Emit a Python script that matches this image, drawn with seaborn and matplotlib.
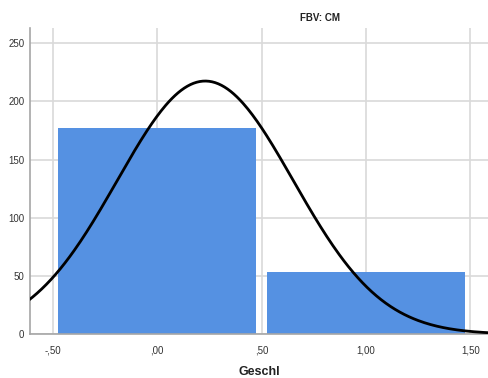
import numpy as np
import pandas as pd
import matplotlib
matplotlib.use("Agg")
import matplotlib.pyplot as plt
import seaborn as sns

# histogram data
bin_centers = [0.0, 1.0]
counts = [177, 53]
bin_edges = [-0.5, 0.5, 1.5]
x_ticks = [-0.5, 0.0, 0.5, 1.0, 1.5]
x_tick_labels = ["-,50", ",00", ",50", "1,00", "1,50"]
y_ticks = [0, 50, 100, 150, 200, 250]

# normal curve fitted like SPSS does (N * binwidth * pdf)
n = sum(counts)
mean = np.average(bin_centers, weights=counts)
sd = np.sqrt(np.sum(np.array(counts) * (np.array(bin_centers) - mean) ** 2) / (n - 1))
xs = np.linspace(-0.62, 1.6, 300)
curve = pd.DataFrame({"x": xs, "y": n * 1.0 * np.exp(-0.5 * ((xs - mean) / sd) ** 2) / (sd * np.sqrt(2 * np.pi))})

sns.set_style("white")
plt.rcParams["font.family"] = ["Liberation Sans", "DejaVu Sans"]

fig = plt.figure(figsize=(4.89, 3.78), dpi=100)
ax = fig.add_axes([0.061, 0.116, 0.939, 0.81])

sns.histplot(x=bin_centers, weights=counts, bins=bin_edges, shrink=0.95,
             color="#5591E2", alpha=1, edgecolor="none", ax=ax, zorder=2)
sns.lineplot(data=curve, x="x", y="y", color="black", linewidth=2, ax=ax, zorder=3)

ax.set_xlim(-0.61, 1.59)
ax.set_ylim(0, 263)
ax.set_xticks(x_ticks)
ax.set_xticklabels(x_tick_labels)
ax.set_yticks(y_ticks)
ax.grid(True, color="#d9d9d9", linewidth=1.2, zorder=0)
ax.set_axisbelow(True)
ax.tick_params(axis="both", length=0, labelsize=7, colors="#333333")
ax.tick_params(axis="x", pad=8)
ax.tick_params(axis="y", pad=4)

for side in ["top", "right"]:
    ax.spines[side].set_visible(False)
for side in ["left", "bottom"]:
    ax.spines[side].set_color("#a6a6a6")
    ax.spines[side].set_linewidth(1.2)

ax.set_ylabel("")
ax.set_xlabel("Geschl", fontsize=9, fontweight="bold", color="#222222", labelpad=8)
fig.text(0.654, 0.953, "FBV: CM", fontsize=7, fontweight="bold", ha="center", va="center", color="#222222")

fig.savefig("out.png", dpi=100)
